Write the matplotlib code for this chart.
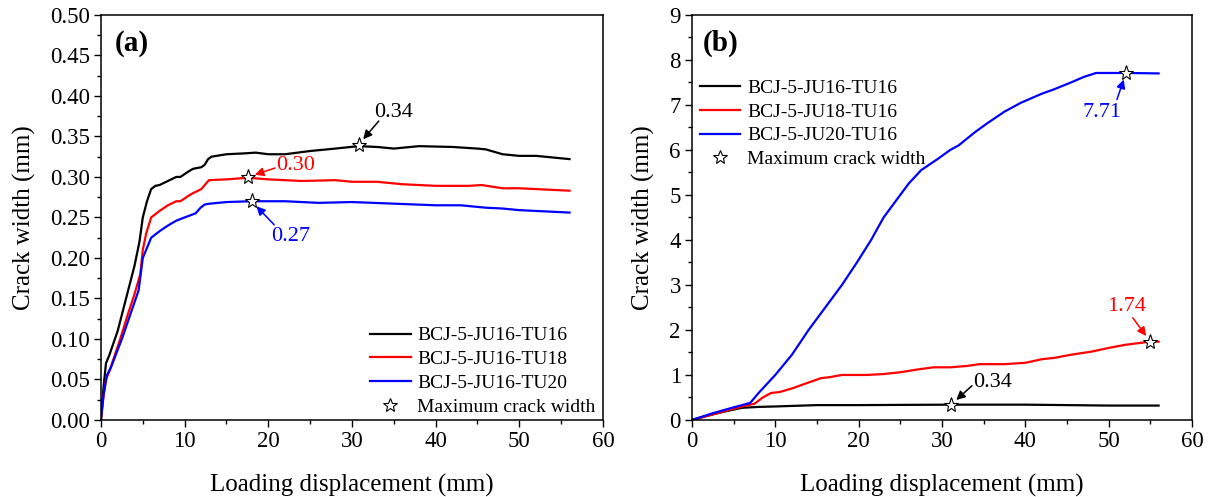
import matplotlib.pyplot as plt
from matplotlib.ticker import MultipleLocator
from matplotlib.lines import Line2D

plt.rcParams['font.family'] = ['Liberation Serif', 'DejaVu Serif']

# panel (a): JU16 joints with different TU bars
xa_16 = [0, 0.3, 0.6, 1, 2, 3, 4, 4.6, 5, 5.5, 6, 6.5, 7, 8, 9, 9.5, 10.5, 11, 12, 12.4, 12.8, 13.2, 15,
         17, 18.5, 20, 22, 25, 28, 30.8, 33, 35, 38, 42, 45, 46, 48, 50, 52, 56]
ya_16 = [0, 0.04, 0.07, 0.08, 0.11, 0.15, 0.19, 0.22, 0.25, 0.27, 0.285, 0.289, 0.29, 0.295, 0.3, 0.3,
         0.307, 0.31, 0.312, 0.315, 0.322, 0.325, 0.328, 0.329, 0.33, 0.328, 0.328, 0.332, 0.335, 0.338,
         0.337, 0.335, 0.338, 0.337, 0.335, 0.334, 0.328, 0.326, 0.326, 0.322]
xa_18 = [0, 0.3, 0.6, 1, 2.3, 3.2, 4, 4.7, 5, 5.4, 6, 7, 8, 9, 9.5, 10.5, 11, 12, 12.4, 12.9, 15, 17.6,
         20, 24, 28, 30, 33, 36, 40, 44, 45.5, 48, 50, 56]
ya_18 = [0, 0.03, 0.05, 0.06, 0.1, 0.13, 0.155, 0.18, 0.21, 0.23, 0.25, 0.258, 0.265, 0.27, 0.27,
         0.277, 0.28, 0.285, 0.29, 0.296, 0.297, 0.299, 0.297, 0.295, 0.296, 0.294, 0.294, 0.291,
         0.289, 0.289, 0.29, 0.286, 0.286, 0.283]
xa_20 = [0, 0.3, 0.7, 1.2, 2.5, 3.5, 4.5, 5, 5.4, 6, 7, 8, 9, 10, 11.3, 11.9, 12.4, 13, 15, 18, 22, 26,
         30, 35, 40, 43, 46, 48, 50, 52, 56]
ya_20 = [0, 0.03, 0.055, 0.065, 0.1, 0.13, 0.16, 0.2, 0.21, 0.225, 0.233, 0.24, 0.246, 0.25, 0.255,
         0.262, 0.266, 0.267, 0.269, 0.27, 0.27, 0.268, 0.269, 0.267, 0.265, 0.265, 0.262, 0.261,
         0.259, 0.258, 0.256]
max_a = [(30.8, 0.34), (17.6, 0.30), (18.0, 0.27)]
labels_a = ['BCJ-5-JU16-TU16', 'BCJ-5-JU16-TU18', 'BCJ-5-JU16-TU20']

# panel (b): TU16 bars with different JU joints
xb_16 = [0, 2, 4, 6, 8, 10, 15, 20, 25, 31.1, 35, 40, 45, 50, 56]
yb_16 = [0, 0.1, 0.19, 0.27, 0.29, 0.3, 0.33, 0.33, 0.335, 0.34, 0.34, 0.34, 0.33, 0.32, 0.32]
xb_18 = [0, 2, 4, 6, 7.5, 8.5, 9.5, 10.5, 12, 13.5, 15.5, 16.5, 18, 21, 23, 25, 27, 29, 31, 33, 34.5,
         37.5, 40, 42, 43.5, 45.5, 48, 50, 52, 55.0, 56]
yb_18 = [0, 0.1, 0.2, 0.3, 0.36, 0.5, 0.6, 0.62, 0.7, 0.8, 0.93, 0.95, 1.0, 1.0, 1.02, 1.06, 1.12,
         1.17, 1.17, 1.2, 1.24, 1.24, 1.27, 1.35, 1.38, 1.45, 1.52, 1.6, 1.67, 1.74, 1.74]
xb_20 = [0, 2.5, 5, 7, 8, 10, 12, 14, 16, 18, 19.8, 21.5, 23, 25, 26, 27.5, 29.5, 31, 32, 34, 35.5,
         37.5, 39.5, 42, 43.5, 45.5, 47, 48.5, 52.1, 56]
yb_20 = [0, 0.15, 0.28, 0.38, 0.6, 1.0, 1.45, 2.0, 2.5, 3.0, 3.5, 4.0, 4.5, 5.0, 5.25, 5.55, 5.8,
         6.0, 6.1, 6.4, 6.6, 6.85, 7.05, 7.25, 7.35, 7.5, 7.62, 7.71, 7.71, 7.7]
max_b = [(31.1, 0.34), (55.0, 1.74), (52.1, 7.71)]
labels_b = ['BCJ-5-JU16-TU16', 'BCJ-5-JU18-TU16', 'BCJ-5-JU20-TU16']

colors = ['black', 'red', 'blue']

fig = plt.figure(figsize=(12.15, 4.97), dpi=100)
ax1 = fig.add_axes([0.0831, 0.155, 0.4132, 0.815])
ax2 = fig.add_axes([0.5695, 0.155, 0.4115, 0.815])


def style_axes(ax, ymax, ymajor, yminor, fmt):
    ax.set_xlim(0, 60)
    ax.set_ylim(0, ymax)
    ax.xaxis.set_major_locator(MultipleLocator(10))
    ax.xaxis.set_minor_locator(MultipleLocator(5))
    ax.yaxis.set_major_locator(MultipleLocator(ymajor))
    ax.yaxis.set_minor_locator(MultipleLocator(yminor))
    ax.yaxis.set_major_formatter(fmt)
    ax.tick_params(which='major', direction='out', length=5, width=1, labelsize=16.5, pad=3)
    ax.tick_params(which='minor', direction='out', length=3, width=1)
    for s in ax.spines.values():
        s.set_linewidth(1.1)
    ax.set_xlabel('Loading displacement (mm)', fontsize=18, labelpad=16)
    ax.set_ylabel('Crack width (mm)', fontsize=18, labelpad=10)


def star_handle():
    return Line2D([], [], linestyle='none', marker='*', markersize=10,
                  markerfacecolor='white', markeredgecolor='black', markeredgewidth=0.8)


def mark_max(ax, star, text, text_xy, arrow_from, color):
    """star on the peak, a value label and an arrow pointing at the star"""
    ax.plot(*star, linestyle='none', marker='*', markersize=11, markerfacecolor='white',
            markeredgecolor='black', markeredgewidth=0.8, zorder=5)
    ax.text(*text_xy, text, color=color, fontsize=16, va='center', ha='left')
    ax.annotate('', xy=star, xytext=arrow_from,
                arrowprops=dict(arrowstyle='-|>', color=color, lw=1.1, mutation_scale=13,
                                shrinkA=0, shrinkB=5))


# (a)
for x, y, c, lab in zip([xa_16, xa_18, xa_20], [ya_16, ya_18, ya_20], colors, labels_a):
    ax1.plot(x, y, color=c, lw=1.6, label=lab)
mark_max(ax1, max_a[0], '0.34', (32.7, 0.380), (33.2, 0.369), 'black')
mark_max(ax1, max_a[1], '0.30', (20.9, 0.314), (20.8, 0.311), 'red')
mark_max(ax1, max_a[2], '0.27', (20.3, 0.226), (20.7, 0.241), 'blue')
style_axes(ax1, 0.5, 0.05, 0.025, '{x:.2f}')
h, l = ax1.get_legend_handles_labels()
ax1.legend(h + [star_handle()], l + ['Maximum crack width'], loc='lower right', frameon=False,
           fontsize=14, handlelength=2.1, handletextpad=0.35, labelspacing=0.32,
           borderaxespad=0.1, bbox_to_anchor=(1.005, -0.014))
ax1.text(0.028, 0.93, '(a)', transform=ax1.transAxes, fontsize=21, fontweight='bold',
         va='center', ha='left')

# (b)
for x, y, c, lab in zip([xb_16, xb_18, xb_20], [yb_16, yb_18, yb_20], colors, labels_b):
    ax2.plot(x, y, color=c, lw=1.6, label=lab)
mark_max(ax2, max_b[0], '0.34', (33.8, 0.84), (33.6, 0.76), 'black')
mark_max(ax2, max_b[1], '1.74', (49.8, 2.51), (52.9, 2.27), 'red')
mark_max(ax2, max_b[2], '7.71', (46.9, 6.84), (51.0, 7.12), 'blue')
style_axes(ax2, 9, 1, 0.5, '{x:.0f}')
h, l = ax2.get_legend_handles_labels()
ax2.legend(h + [star_handle()], l + ['Maximum crack width'], loc='upper left', frameon=False,
           fontsize=14, handlelength=2.1, handletextpad=0.35, labelspacing=0.32,
           borderaxespad=0.3, bbox_to_anchor=(-0.012, 0.875))
ax2.text(0.022, 0.93, '(b)', transform=ax2.transAxes, fontsize=21, fontweight='bold',
         va='center', ha='left')

fig.savefig('out.png', dpi=100)
